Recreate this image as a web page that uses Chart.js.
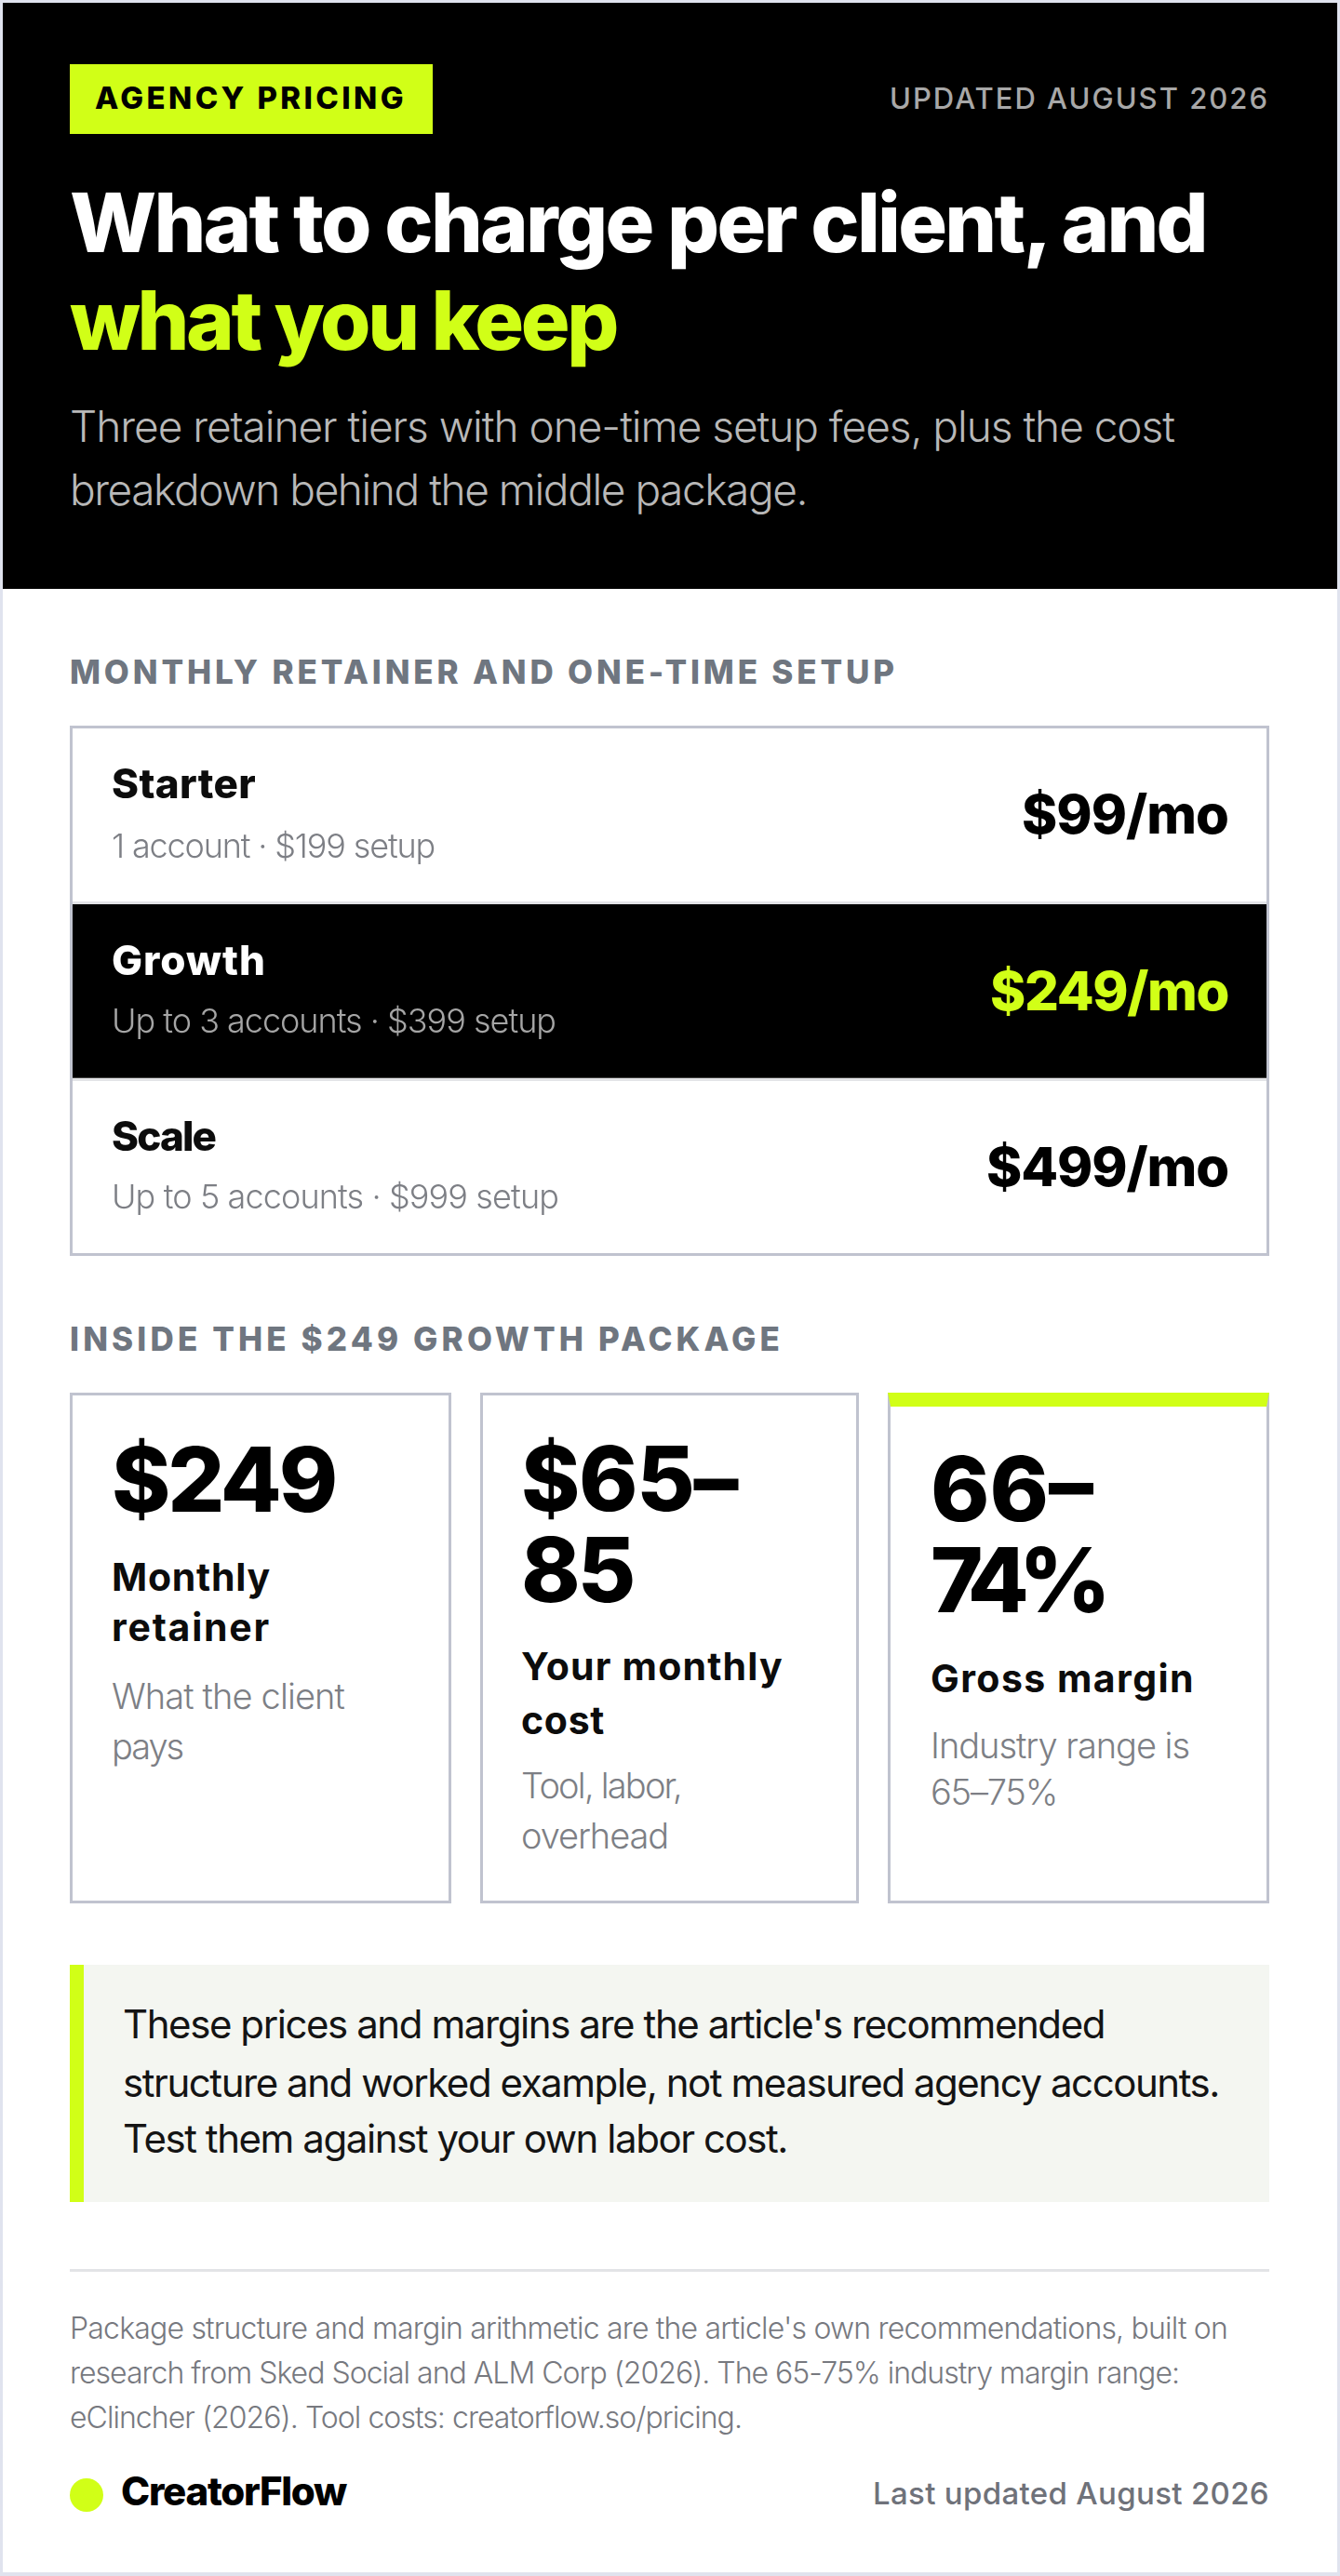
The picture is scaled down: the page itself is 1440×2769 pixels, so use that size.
<!DOCTYPE html>
<html>
<head>
<meta charset="utf-8">
<title>Agency pricing</title>
<script src="https://cdn.jsdelivr.net/npm/chart.js@4"></script>
<style>
  html, body { margin: 0; padding: 0; background: #fff; }
  #page { position: relative; width: 1440px; height: 2769px; overflow: hidden; background: #fff; font-family: Inter, sans-serif; }
  #page > div, #table { position: absolute; box-sizing: border-box; }
  .t { position: absolute; white-space: pre; line-height: 1; transform: translateY(-50%); }
  .t.stat { display: block; font: 800 96px/98px Inter; color: #000; }
  #cost { letter-spacing: -3px; }
  #cost::first-line { letter-spacing: -1.3px; }
  #margin { letter-spacing: -11px; }
  #margin::first-line { letter-spacing: 0; }
</style>
</head>
<body>
<div id="page">
  <div style="left:0;top:0;width:1440px;height:2769px;border:3px solid #e0e3ee;border-bottom-width:4px"></div>
  <div style="left:3px;top:3px;width:1434px;height:630px;background:#000"></div>
  <div style="left:75px;top:69px;width:390px;height:75px;background:#d1ff17"></div>
  <div id="table" style="left:75px;top:780px;width:1289px;height:570px;border:3px solid #c0c3cf">
    <canvas id="pricing" width="1283" height="564" style="display:block"></canvas>
  </div>
  <div style="left:75px;top:1497px;width:410px;height:549px;border:3px solid #c0c3cf"></div>
  <div style="left:516px;top:1497px;width:407px;height:549px;border:3px solid #c0c3cf"></div>
  <div style="left:954px;top:1497px;width:410px;height:549px;border:3px solid #c0c3cf;border-top:15px solid #d1ff17"></div>
  <div style="left:75px;top:2112px;width:1289px;height:255px;background:#f4f6f1;border-left:15px solid #d1ff17"></div>
  <div style="left:75px;top:2439px;width:1289px;height:3px;background:#e3e4e7"></div>
  <div style="left:75px;top:2664px;width:36px;height:36px;border-radius:50%;background:#d1ff17"></div>
  <span class="t stat" id="cost" style="left:560px;top:1638px">$65–
85</span>
  <span class="t stat" id="margin" style="left:1000px;top:1649px">66–
74%</span>
</div>
<script>
const tiers = ["Starter", "Growth", "Scale"];
const accounts = ["1 account", "Up to 3 accounts", "Up to 5 accounts"];
const monthly = [99, 249, 499];
const setup = [199, 399, 999];
const rowSpan = [1, 1, 1];
const rowColors = ["#ffffff", "#000000", "#ffffff"];

const lime = "#d1ff17";
const page = document.getElementById("page");

// text centred on y; w stretches or tightens it to the measured width
function put(text, x, y, font, color, w, right) {
  const el = document.createElement("span");
  el.className = "t";
  el.textContent = text;
  el.style.font = font;
  el.style.lineHeight = "1";
  el.style.color = color;
  el.style.top = y + "px";
  if (right) el.style.right = (1440 - x) + "px";
  else el.style.left = x + "px";
  page.appendChild(el);
  if (w) {
    const now = el.getBoundingClientRect().width;
    el.style.letterSpacing = ((w - now) / text.length) + "px";
  }
}

// header
put("AGENCY PRICING", 102, 105, "800 33px Inter", "#000", 335);
put("UPDATED AUGUST 2026", 1364, 105, "500 31px Inter", "#a8a8a8", 408, true);
put("What to charge per client, and", 75, 239, "800 88px Inter", "#fff", 1221);
put("what you keep", 75, 344, "800 88px Inter", lime, 587);
put("Three retainer tiers with one-time setup fees, plus the cost", 75, 458, "300 46px Inter", "#b8b8b8", 1187);
put("breakdown behind the middle package.", 75, 526, "300 46px Inter", "#b8b8b8", 792);

// section titles
put("MONTHLY RETAINER AND ONE-TIME SETUP", 75, 722, "800 35px Inter", "#6f7680", 890);
put("INSIDE THE $249 GROWTH PACKAGE", 75, 1439, "800 35px Inter", "#6f7680", 767);

// stat cards
const ink = "#0c0c0c", grey = "#7d7f85";
put("$249", 120, 1590, "800 96px Inter", "#000", 240);
put("Monthly", 120, 1695, "700 41px Inter", ink, 171);
put("retainer", 120, 1749, "700 41px Inter", ink, 171);
put("What the client", 120, 1823, "300 38px Inter", grey, 250);
put("pays", 120, 1877, "300 38px Inter", grey, 76);

put("Your monthly", 560, 1791, "700 41px Inter", ink, 282);
put("cost", 560, 1849, "700 41px Inter", ink, 90);
put("Tool, labor,", 560, 1919, "300 38px Inter", grey, 172);
put("overhead", 560, 1973, "300 38px Inter", grey, 158);

put("Gross margin", 1000, 1804, "700 41px Inter", ink, 284);
put("Industry range is", 1000, 1876, "300 38px Inter", grey, 278);
put("65–75%", 1000, 1926, "300 38px Inter", grey, 136);

// callout
put("These prices and margins are the article's recommended", 132, 2176, "400 42px Inter", "#141414", 1055);
put("structure and worked example, not measured agency accounts.", 132, 2239, "400 42px Inter", "#141414", 1178);
put("Test them against your own labor cost.", 132, 2299, "400 42px Inter", "#141414", 714);

// sources and footer
put("Package structure and margin arithmetic are the article's own recommendations, built on", 75, 2503, "300 32px Inter", "#77797f", 1244);
put("research from Sked Social and ALM Corp (2026). The 65-75% industry margin range:", 75, 2551, "300 32px Inter", "#77797f", 1192);
put("eClincher (2026). Tool costs: creatorflow.so/pricing.", 75, 2599, "300 32px Inter", "#77797f", 722);
put("CreatorFlow", 130, 2678, "800 42px Inter", "#000", 242);
put("Last updated August 2026", 1364, 2680, "500 33px Inter", "#6f727a", 426, true);

// canvas counterpart of the width fit in put()
function fitText(ctx, text, x, y, w) {
  ctx.letterSpacing = "0px";
  const now = ctx.measureText(text).width;
  ctx.letterSpacing = ((w - now) / text.length) + "px";
  ctx.fillText(text, x, y);
}

const nameWidths = [155, 166, 111];
const subWidths = [347, 477, 480];
const priceWidths = [222, 256, 260];

// row text and dividers hang off the y scale, one band per tier
const rowText = {
  id: "rowText",
  afterDatasetsDraw(chart) {
    const { ctx, scales: { y }, chartArea: { left, right } } = chart;
    ctx.save();
    tiers.forEach((tier, i) => {
      const mid = y.getPixelForValue(i);
      const dark = rowColors[i] === "#000000";
      ctx.textBaseline = "middle";
      ctx.textAlign = "left";

      ctx.font = "800 44px Inter";
      ctx.fillStyle = dark ? "#fff" : "#0c0c0c";
      fitText(ctx, tier, 42, mid - 32 + i * 1.5, nameWidths[i]);

      ctx.font = "300 36px Inter";
      ctx.fillStyle = dark ? "#a5a5a5" : "#7d7f85";
      fitText(ctx, accounts[i] + " · $" + setup[i] + " setup", 42, mid + 34 + i * 0.5, subWidths[i]);

      ctx.font = "800 58px Inter";
      ctx.fillStyle = dark ? lime : "#000";
      fitText(ctx, "$" + monthly[i] + "/mo", right - 41 - priceWidths[i], mid + 2 + i * 1.5, priceWidths[i]);

      if (i > 0) {
        ctx.fillStyle = "#e3e4e7";
        const edge = Math.round(y.getPixelForValue(i - 0.5));
        ctx.fillRect(left, edge - 2 + (i - 1) * 2, right - left, 3);
      }
    });
    ctx.restore();
  }
};

new Chart(document.getElementById("pricing"), {
  type: "bar",
  plugins: [rowText],
  data: {
    labels: tiers,
    datasets: [{
      label: "Monthly retainer",
      data: rowSpan,
      backgroundColor: rowColors,
      barPercentage: 1,
      categoryPercentage: 1
    }]
  },
  options: {
    indexAxis: "y",
    responsive: false,
    animation: false,
    devicePixelRatio: 1,
    layout: { padding: 0 },
    scales: {
      x: { display: false, min: 0, max: 1 },
      y: { display: false }
    },
    plugins: { legend: { display: false }, tooltip: { enabled: false } }
  }
});
</script>
</body>
</html>
